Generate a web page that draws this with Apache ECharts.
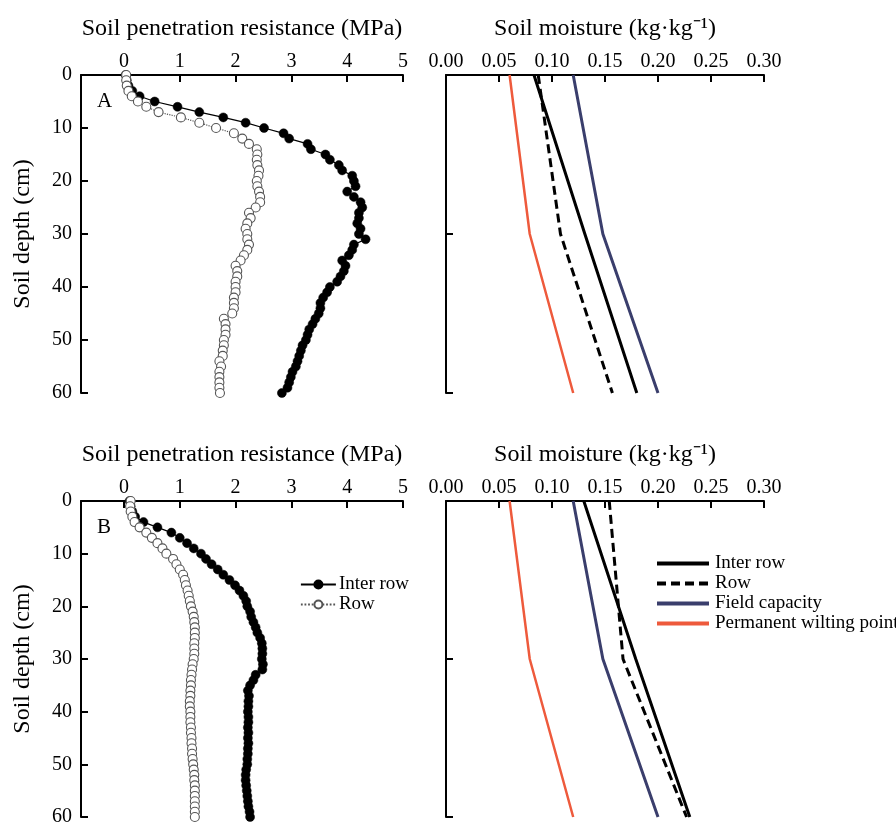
<!DOCTYPE html>
<html>
<head>
<meta charset="utf-8">
<script src="https://cdn.jsdelivr.net/npm/echarts@6/dist/echarts.min.js"></script>
<style>
html,body{margin:0;padding:0;background:#fff;}
#chart{width:896px;height:827px;}
</style>
</head>
<body>
<div id="chart"></div>
<script>
// ---------- Data ----------
// Penetration resistance depths (cm), 1 cm steps
const prDepth = [0,1,2,3,4,5,6,7,8,9,10,11,12,13,14,15,16,17,18,19,20,21,22,23,24,25,26,27,28,29,30,
  31,32,33,34,35,36,37,38,39,40,41,42,43,44,45,46,47,48,49,50,51,52,53,54,55,56,57,58,59,60];

// Panel A, soil penetration resistance (MPa)
const prA_inter = [0.03,0.05,0.08,0.15,0.28,0.55,0.96,1.35,1.78,2.18,2.51,2.86,2.96,3.29,3.35,3.61,3.69,3.85,3.91,4.09,4.12,
  4.15,4.00,4.12,4.24,4.27,4.21,4.21,4.18,4.24,4.21,4.33,4.12,4.09,4.03,3.91,3.97,3.94,3.88,3.82,3.69,
  3.64,3.57,3.52,3.52,3.49,3.43,3.38,3.32,3.29,3.26,3.20,3.17,3.14,3.11,3.08,3.02,2.99,2.96,2.93,2.83];
const prA_row = [0.04,0.04,0.05,0.08,0.14,0.25,0.40,0.62,1.02,1.35,1.65,1.97,2.12,2.24,2.38,2.39,2.38,2.39,2.42,2.41,2.38,
  2.39,2.42,2.44,2.44,2.36,2.24,2.27,2.21,2.18,2.21,2.21,2.24,2.21,2.15,2.09,2.00,2.03,2.03,2.00,2.00,
  2.00,1.97,1.97,1.97,1.94,1.79,1.82,1.82,1.82,1.79,1.79,1.77,1.77,1.71,1.74,1.71,1.71,1.71,1.71,1.72];

// Panel B, soil penetration resistance (MPa)
const prB_inter = [0.10,0.12,0.15,0.20,0.35,0.60,0.85,1.00,1.13,1.25,1.38,1.47,1.57,1.68,1.78,1.89,1.99,2.07,2.14,2.19,2.21,
  2.26,2.28,2.32,2.36,2.39,2.44,2.47,2.48,2.48,2.47,2.49,2.48,2.36,2.32,2.26,2.22,2.24,2.23,2.23,2.22,
  2.23,2.23,2.22,2.23,2.22,2.23,2.22,2.22,2.21,2.21,2.19,2.18,2.18,2.19,2.20,2.21,2.22,2.23,2.25,2.26];
const prB_row = [0.12,0.11,0.12,0.15,0.19,0.28,0.40,0.50,0.60,0.69,0.76,0.88,0.94,1.00,1.06,1.09,1.11,1.14,1.16,1.18,1.20,
  1.23,1.25,1.26,1.27,1.27,1.27,1.26,1.26,1.26,1.25,1.23,1.22,1.21,1.20,1.20,1.19,1.19,1.18,1.18,1.19,
  1.19,1.19,1.20,1.20,1.21,1.21,1.22,1.22,1.23,1.24,1.25,1.26,1.26,1.27,1.27,1.27,1.27,1.27,1.27,1.27];

// Soil moisture (kg/kg) profiles
const smDepth = [0, 30, 60];
const smA_inter = [0.083, 0.131, 0.180];
const smA_row   = [0.087, 0.108, 0.157];
const smB_inter = [0.130, 0.179, 0.230];
const smB_row   = [0.154, 0.167, 0.227];
const fieldCap  = [0.120, 0.148, 0.200];
const wiltPoint = [0.060, 0.079, 0.120];

// Tick labels
const prTicks = [0, 1, 2, 3, 4, 5];

// ---------- Build ----------
const FONT = '"Liberation Serif","Times New Roman",serif';
function pairs(vals, depths){ return vals.map((v,i)=>[v, depths[i]]); }

const axisLine = {show:true, onZero:false, lineStyle:{color:'#000', width:2}};
const axisTick = {show:true, inside:true, length:7, lineStyle:{color:'#000', width:2}};

const grids = [
  {left:81, top:75, width:322, height:318},
  {left:446, top:75, width:318, height:318},
  {left:81, top:501, width:322, height:316},
  {left:446, top:501, width:318, height:316}
];

const xAxes = [], yAxes = [];
for (let g=0; g<4; g++){
  const isPR = (g % 2 === 0);
  if (isPR){
    xAxes.push({
      type:'value', gridIndex:g, position:'top', min:-0.77, max:5,
      name:'Soil penetration resistance (MPa)', nameLocation:'middle', nameGap:34,
      nameTextStyle:{fontFamily:FONT, fontSize:24, color:'#000'},
      axisLine: axisLine,
      axisTick: Object.assign({customValues: prTicks}, axisTick),
      axisLabel:{customValues: prTicks, fontFamily:FONT, fontSize:20, color:'#000', margin:3},
      splitLine:{show:false}
    });
    yAxes.push({
      type:'value', gridIndex:g, inverse:true, min:0, max:60, interval:10,
      name:'Soil depth (cm)', nameLocation:'middle', nameGap:46, nameRotate:90,
      nameTextStyle:{fontFamily:FONT, fontSize:24, color:'#000'},
      axisLine: axisLine, axisTick: axisTick,
      axisLabel:{fontFamily:FONT, fontSize:20, color:'#000', margin:9},
      splitLine:{show:false}
    });
  } else {
    xAxes.push({
      type:'value', gridIndex:g, position:'top', min:0, max:0.3, interval:0.05,
      name:'Soil moisture (kg\u00b7kg\u207b\u00b9)', nameLocation:'middle', nameGap:34,
      nameTextStyle:{fontFamily:FONT, fontSize:24, color:'#000'},
      axisLine: axisLine, axisTick: axisTick,
      axisLabel:{fontFamily:FONT, fontSize:20, color:'#000', margin:3,
        formatter:(v)=>v.toFixed(2)},
      splitLine:{show:false}
    });
    yAxes.push({
      type:'value', gridIndex:g, inverse:true, min:0, max:60, interval:30,
      axisLine: axisLine, axisTick: axisTick,
      axisLabel:{show:false},
      splitLine:{show:false}
    });
  }
}

function prSeries(name, vals, g, filled){
  return {
    name:name, type:'line', xAxisIndex:g, yAxisIndex:g,
    data: pairs(vals, prDepth),
    symbol:'circle', symbolSize:9, showSymbol:true,
    lineStyle: filled ? {color:'#000', width:1.2} : {color:'#555', width:1.2, type:'dotted'},
    itemStyle: filled ? {color:'#000', borderColor:'#000', borderWidth:0.5}
                      : {color:'#fff', borderColor:'#555', borderWidth:1.1},
    z: filled ? 2 : 3
  };
}
function smSeries(name, vals, g, color, width, dashed){
  return {
    name:name, type:'line', xAxisIndex:g, yAxisIndex:g,
    data: pairs(vals, smDepth), symbol:'none',
    itemStyle:{color:color},
    lineStyle:{color:color, width:width, type: dashed ? [9,5] : 'solid'}
  };
}

const BLUE = '#3a3e6c', RED = '#ee5a3c';
const series = [
  prSeries('Inter row', prA_inter, 0, true),
  prSeries('Row', prA_row, 0, false),
  prSeries('Inter row', prB_inter, 2, true),
  prSeries('Row', prB_row, 2, false),
  smSeries('SM Inter row', smA_inter, 1, '#000', 3, false),
  smSeries('SM Row', smA_row, 1, '#000', 3, true),
  smSeries('Field capacity', fieldCap, 1, BLUE, 3, false),
  smSeries('Permanent wilting point', wiltPoint, 1, RED, 2.5, false),
  smSeries('SM Inter row', smB_inter, 3, '#000', 3, false),
  smSeries('SM Row', smB_row, 3, '#000', 3, true),
  smSeries('Field capacity', fieldCap, 3, BLUE, 3, false),
  smSeries('Permanent wilting point', wiltPoint, 3, RED, 2.5, false)
];

const option = {
  animation:false,
  backgroundColor:'#fff',
  title:[
    {text:'A', left:92, top:86, textStyle:{fontFamily:FONT, fontSize:21, fontWeight:'normal', color:'#000'}},
    {text:'B', left:92, top:512, textStyle:{fontFamily:FONT, fontSize:21, fontWeight:'normal', color:'#000'}}
  ],
  grid: grids,
  xAxis: xAxes,
  yAxis: yAxes,
  legend:[
    {data:['Inter row','Row'], orient:'vertical', left:295, top:570, itemWidth:35, itemHeight:10,
     itemGap:1, selectedMode:false,
     lineStyle:{width:1.8},
     textStyle:{fontFamily:FONT, fontSize:19, color:'#000', lineHeight:19, padding:[0,0,0,-2]}},
    {data:['SM Inter row','SM Row','Field capacity','Permanent wilting point'], orient:'vertical',
     left:650, top:549, itemWidth:52, itemHeight:10, itemGap:1, selectedMode:false,
     itemStyle:{opacity:0},
     lineStyle:{width:4},
     formatter:(n)=>n.replace('SM ',''),
     textStyle:{fontFamily:FONT, fontSize:19, color:'#000', lineHeight:19, padding:[0,0,0,1]}}
  ],
  series: series
};

const chart = echarts.init(document.getElementById('chart'), null, {renderer:'canvas'});
chart.setOption(option);
</script>
</body>
</html>
